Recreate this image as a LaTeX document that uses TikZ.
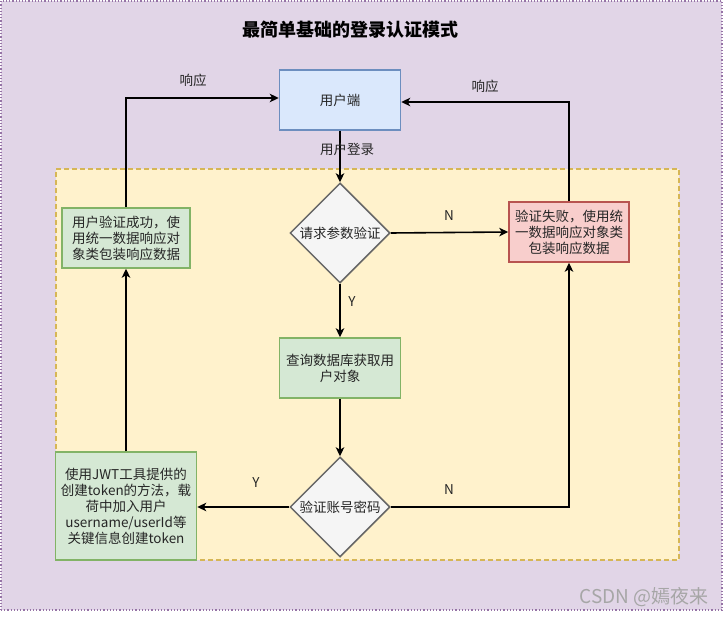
\documentclass[tikz,border=0pt]{standalone}
\usepackage{fontspec}
\setmainfont{Noto Sans CJK SC}
\usetikzlibrary{shapes.geometric,arrows.meta}
\definecolor{bgfill}{HTML}{E1D5E7}
\definecolor{bgline}{HTML}{9673A6}
\definecolor{yfill}{HTML}{FFF2CC}
\definecolor{yline}{HTML}{D6B656}
\definecolor{bfill}{HTML}{DAE8FC}
\definecolor{bline}{HTML}{6C8EBF}
\definecolor{gfill}{HTML}{D5E8D4}
\definecolor{gline}{HTML}{82B366}
\definecolor{rfill}{HTML}{F8CECC}
\definecolor{rline}{HTML}{B85450}
\definecolor{dfill}{HTML}{F5F5F5}
\definecolor{dline}{HTML}{666666}
\begin{document}
\begin{tikzpicture}[x=1pt,y=-1pt,
  txt/.style={font=\fontsize{13.5}{16}\selectfont, text=black!85},
  box/.style={draw, line width=1.5pt, align=center, inner sep=1pt, txt},
  bluebox/.style={box, fill=bfill, draw=bline},
  greenbox/.style={box, fill=gfill, draw=gline},
  redbox/.style={box, fill=rfill, draw=rline},
  dec/.style={diamond, draw=dline, fill=dfill, line width=1.5pt, minimum width=100pt, minimum height=100pt, inner sep=0pt, txt},
  flow/.style={line width=1.6pt, -{Stealth[length=9pt,width=8.5pt,inset=2.5pt]}},
  lbl/.style={txt, inner sep=0pt}]
\useasboundingbox (0,0) rectangle (725,617);
\node[draw=bgline, fill=bgfill, dotted, line width=1.2pt, minimum width=721pt, minimum height=609pt, inner sep=0pt] (bg) at (361.5,305.5) {};
\node[draw=yline, fill=yfill, dash pattern=on 5pt off 3pt, line width=1.2pt, minimum width=623pt, minimum height=391pt, inner sep=0pt] (zone) at (367.5,364.5) {};
\node[font=\fontsize{18}{20}\selectfont\bfseries] (title) at (350,30) {最简单基础的登录认证模式};
\node[bluebox, minimum width=121pt, minimum height=60pt] (user) at (340,100) {用户端};
\node[dec] (d1) at (340,233) {请求参数验证};
\node[redbox, minimum width=120pt, minimum height=60pt] (red) at (569,232) {验证失败，使用统\\一数据响应对象类\\包装响应数据};
\node[greenbox, minimum width=128pt, minimum height=60pt] (ok) at (126,238) {用户验证成功，使\\用统一数据响应对\\象类包装响应数据};
\node[greenbox, minimum width=121pt, minimum height=60pt] (query) at (340,368) {查询数据库获取用\\户对象};
\node[dec] (d2) at (340,507) {验证账号密码};
\node[greenbox, minimum width=141pt, minimum height=108pt] (jwt) at (126,506) {使用JWT工具提供的\\创建token的方法，载\\荷中加入用户\\username/userId等\\关键信息创建token};
\draw[flow] (user.south) -- (d1.north);
\node[lbl] (l1) at (347,149) {用户登录};
\draw[flow] (d1.east) -- (red.west);
\node[lbl] (ln1) at (449,216) {N};
\draw[flow] (red.north) |- ([yshift=-2pt]user.east);
\node[lbl] (lr1) at (485,86) {响应};
\draw[flow] (ok.north) |- ([yshift=2pt]user.west);
\node[lbl] (lr2) at (193,80) {响应};
\draw[flow] (d1.south) -- (query.north);
\node[lbl] (ly1) at (352,302) {Y};
\draw[flow] (query.south) -- (d2.north);
\draw[flow] (d2.east) -| (red.south);
\node[lbl] (ln2) at (449,490) {N};
\draw[flow] (d2.west) -- (d2.west -| jwt.east);
\node[lbl] (ly2) at (256,483) {Y};
\draw[flow] (jwt.north) -- (ok.south);
\node[font=\fontsize{19}{21}\selectfont, text=black!35] (wm) at (644,597) {CSDN @嫣夜来};
\end{tikzpicture}
\end{document}
